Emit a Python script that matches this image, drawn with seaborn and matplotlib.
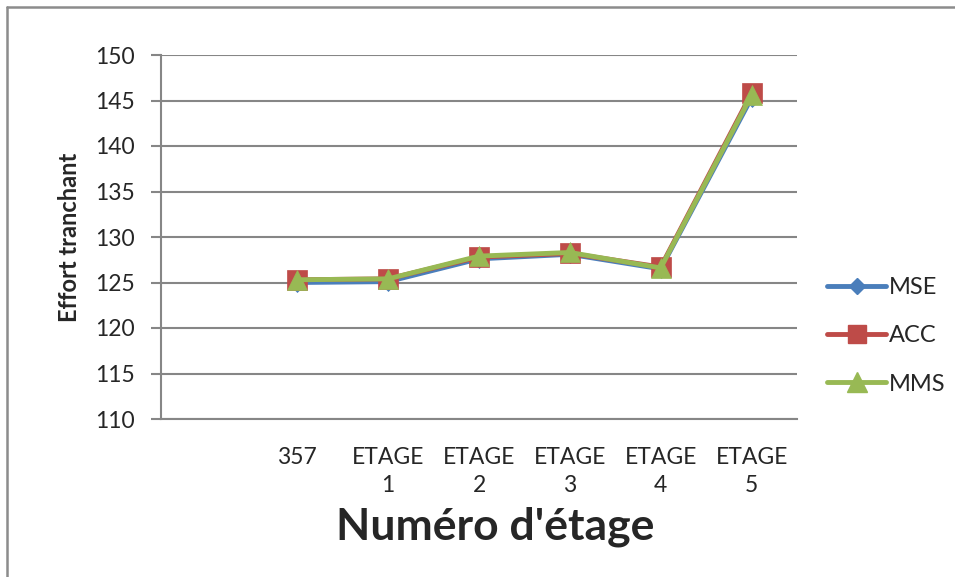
import matplotlib
matplotlib.use("Agg")
import matplotlib.pyplot as plt
from matplotlib.lines import Line2D
import seaborn as sns
import pandas as pd

# Categories along the x axis (the first slot is left blank)
categories = ["", "357", "ETAGE\n1", "ETAGE\n2", "ETAGE\n3", "ETAGE\n4", "ETAGE\n5"]
data_categories = categories[1:]

series_names = ["MSE", "ACC", "MMS"]
mse = [125.0, 125.1, 127.6, 128.1, 126.5, 145.3]
acc = [125.3, 125.4, 127.8, 128.2, 126.7, 145.8]
mms = [125.3, 125.4, 127.9, 128.3, 126.6, 145.6]

y_ticks = [110, 115, 120, 125, 130, 135, 140, 145, 150]

colors = {"MSE": "#4A7EBB", "ACC": "#BE4B48", "MMS": "#98B954"}
markers = {"MSE": "D", "ACC": "s", "MMS": "^"}
marker_sizes = {"MSE": 9, "ACC": 14, "MMS": 15}

rows = []
for name, vals in zip(series_names, [mse, acc, mms]):
    for cat, v in zip(data_categories, vals):
        rows.append({"pos": categories.index(cat) + 0.5, "val": v, "serie": name})
df = pd.DataFrame(rows)

sns.set_theme(style="white")
plt.rcParams["font.family"] = ["Lato", "DejaVu Sans"]

fig = plt.figure(figsize=(9.55, 5.77), dpi=100)
ax = fig.add_axes([161 / 955, 1 - 419 / 577, (797 - 161) / 955, (419 - 55) / 577])

for name in series_names:
    sub = df[df["serie"] == name]
    sns.lineplot(data=sub, x="pos", y="val", ax=ax, color=colors[name],
                 linewidth=3.5, marker=markers[name],
                 markersize=marker_sizes[name], markeredgecolor=colors[name],
                 markeredgewidth=0.5, legend=False, zorder=3)

ax.set_xlim(0, len(categories))
ax.set_ylim(110, 150)
ax.set_yticks(y_ticks)
ax.set_yticklabels([str(t) for t in y_ticks], fontsize=16.5)
ax.set_xticks([i + 0.5 for i in range(len(categories))])
ax.set_xticklabels(categories, fontsize=16.5, linespacing=1.45)
ax.tick_params(axis="x", length=0, pad=20)
ax.tick_params(axis="y", length=7, width=1.5, color="#868686", direction="out", pad=12,
               left=True)

ax.yaxis.grid(True, color="#868686", linewidth=1.5)
ax.set_axisbelow(True)
for side in ["top", "right"]:
    ax.spines[side].set_visible(False)
for side in ["left", "bottom"]:
    ax.spines[side].set_color("#868686")
    ax.spines[side].set_linewidth(1.5)

ax.set_xlabel("Numéro d'étage", fontsize=32, fontweight="bold")
ax.xaxis.set_label_coords((495 - 161) / (797 - 161), -(527 - 419) / (419 - 55))
ax.xaxis.label.set_verticalalignment("center")
ax.set_ylabel("Effort tranchant", fontsize=17, fontweight="bold", labelpad=10)

handles = [Line2D([0], [0], color=colors[n], linewidth=3.5, marker=markers[n],
                  markersize=marker_sizes[n] * 0.95, markeredgecolor=colors[n])
           for n in series_names]
fig.legend(handles, series_names, loc="center left",
           bbox_to_anchor=(806 / 955, 1 - 336 / 577), frameon=False,
           fontsize=17, handlelength=2.5, handletextpad=0.1, labelspacing=1.15)

# Chart-area border on the left and top edges
fig.add_artist(Line2D([7 / 955, 7 / 955], [0, 1 - 7 / 577], color="#8C8C8C",
                      linewidth=1.8, transform=fig.transFigure))
fig.add_artist(Line2D([7 / 955, 1], [1 - 7 / 577, 1 - 7 / 577], color="#8C8C8C",
                      linewidth=1.8, transform=fig.transFigure))

fig.savefig("out.png", dpi=100, facecolor="white")
